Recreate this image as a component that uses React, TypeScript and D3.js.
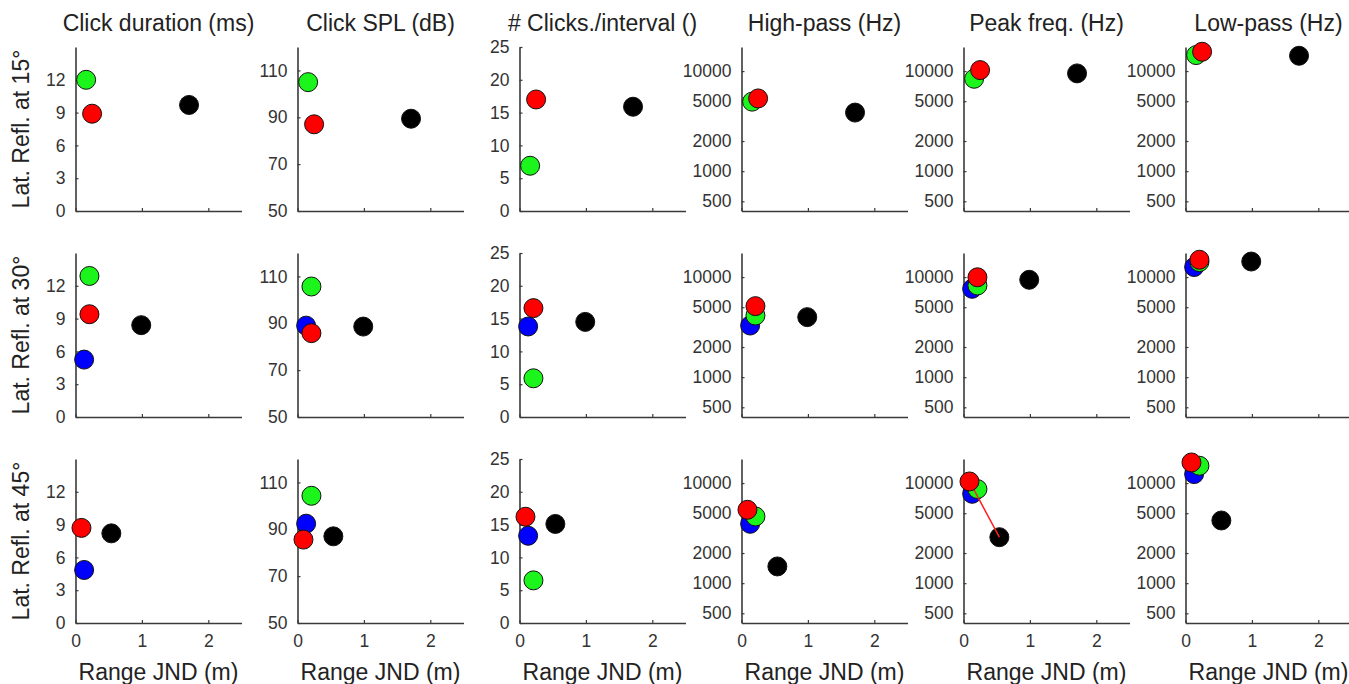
import { useEffect, useRef } from 'react'
import * as d3 from 'd3'

const width = 1349
const height = 684

// rows = lateral reflection angle, columns = click parameter
const angles = ['15°', '30°', '45°']
const measures = [
  'Click duration (ms)',
  'Click SPL (dB)',
  '# Clicks./interval ()',
  'High-pass (Hz)',
  'Peak freq. (Hz)',
  'Low-pass (Hz)',
]
const xTicks = [0, 1, 2]

// range JND (m) per row for each subject colour
const jndBlack = [1.71, 0.99, 0.54]
const jndBlue = [NaN, 0.13, 0.13]
const jndGreen = [0.16, 0.21, 0.21]
const jndRed = [0.25, 0.21, 0.09]

// parameter value per row (angle) x column (measure)
const valBlack = [
  [9.7, 89.4, 15.9, 3850, 9480, 14230],
  [8.4, 88.6, 14.5, 3980, 9400, 14300],
  [8.2, 87, 15.1, 1470, 2880, 4230],
]
const valBlue = [
  [NaN, NaN, NaN, NaN, NaN, NaN],
  [5.25, 89, 13.8, 3280, 7640, 12600],
  [4.85, 92.4, 13.3, 3920, 7820, 12300],
]
const valGreen = [
  [12.0, 105, 6.9, 4950, 8380, 14450],
  [12.9, 105.7, 5.9, 4130, 8240, 14130],
  [NaN, 104.3, 6.5, 4640, 8710, 14900],
]
const valRed = [
  [8.9, 87, 17.0, 5330, 10230, 15600],
  [9.4, 85.8, 16.6, 5125, 9950, 14900],
  [8.7, 85.6, 16.2, 5410, 10380, 16070],
]

// y-axis setup per column
const linDomains: [number, number][] = [[0, 15], [50, 120], [0, 25]]
const linTicks = [[0, 3, 6, 9, 12], [50, 70, 90, 110], [0, 5, 10, 15, 20, 25]]
const freqDomain: [number, number] = [400, 17400]
const freqTicks = [500, 1000, 2000, 5000, 10000]

// red line joining red and black points in the 45° peak-freq panel
const links = [{ row: 2, col: 4, from: 'red', to: 'black' }]

const series = [
  { key: 'black', color: '#000000', jnd: jndBlack, vals: valBlack },
  { key: 'blue', color: '#0000ff', jnd: jndBlue, vals: valBlue },
  { key: 'green', color: '#1cf51c', jnd: jndGreen, vals: valGreen },
  { key: 'red', color: '#ff0000', jnd: jndRed, vals: valRed },
]

export default function App() {
  const svgRef = useRef<SVGSVGElement>(null)

  useEffect(() => {
    if (!svgRef.current) return
    const svg = d3.select(svgRef.current)
    svg.selectAll('*').remove()

    const font = '"Liberation Sans", Arial, sans-serif'
    const left0 = 75.5
    const colStep = 222
    const top0 = 47
    const rowStep = 206
    const pw = 166
    const ph = 164
    const r = 9.5

    angles.forEach((angle, row) => {
      measures.forEach((measure, col) => {
        const left = left0 + col * colStep
        const top = top0 + row * rowStep
        const g = svg.append('g').attr('transform', `translate(${left},${top})`)

        const x = d3.scaleLinear().domain([0, 2.5]).range([0, pw])
        const isLog = col >= 3
        const y: any = isLog
          ? d3.scaleLog().domain(freqDomain).range([ph, 0])
          : d3.scaleLinear().domain(linDomains[col]).range([ph, 0])
        const yt = isLog ? freqTicks : linTicks[col]

        // axes
        const yAxis = g
          .append('g')
          .call(
            d3.axisLeft(y).tickValues(yt).tickSizeInner(-3).tickSizeOuter(0).tickPadding(10).tickFormat((d: any) => String(d))
          )
        const xAxis = g
          .append('g')
          .attr('transform', `translate(0,${ph})`)
          .call(
            d3.axisBottom(x)
              .tickValues(xTicks)
              .tickSizeInner(-3)
              .tickSizeOuter(0)
              .tickPadding(12)
              .tickFormat((d: any) => (row === angles.length - 1 ? String(d) : ''))
          )
        ;[yAxis, xAxis].forEach((ax) => {
          ax.select('.domain').attr('stroke', '#3a3a3a').attr('stroke-width', 1.6)
          ax.selectAll('.tick line').attr('stroke', '#3a3a3a').attr('stroke-width', 1.2)
          ax.selectAll('.tick text')
            .attr('fill', '#333')
            .attr('font-size', '17.5px')
            .attr('font-family', font)
        })

        // title on top row
        if (row === 0) {
          svg
            .append('text')
            .attr('x', left + pw / 2)
            .attr('y', top - 16)
            .attr('text-anchor', 'middle')
            .attr('fill', '#222')
            .attr('font-size', '23px')
            .attr('font-family', font)
            .text(measure)
        }

        // x label on bottom row
        if (row === angles.length - 1) {
          svg
            .append('text')
            .attr('x', left + pw / 2)
            .attr('y', top + ph + 57)
            .attr('text-anchor', 'middle')
            .attr('fill', '#222')
            .attr('font-size', '23px')
            .attr('font-family', font)
            .text('Range JND (m)')
        }

        // y label on first column
        if (col === 0) {
          svg
            .append('text')
            .attr('transform', `translate(23,${top + ph / 2}) rotate(-90)`)
            .attr('text-anchor', 'middle')
            .attr('dominant-baseline', 'middle')
            .attr('fill', '#222')
            .attr('font-size', '23px')
            .attr('font-family', font)
            .text(`Lat. Refl. at ${angle}`)
        }

        const pts = series
          .map((s) => ({ key: s.key, color: s.color, jx: s.jnd[row], v: s.vals[row][col] }))
          .filter((p) => !isNaN(p.jx) && !isNaN(p.v))

        const drawPts = (list: typeof pts) =>
          g
            .selectAll(null)
            .data(list)
            .enter()
            .append('circle')
            .attr('cx', (d) => x(d.jx))
            .attr('cy', (d) => y(d.v))
            .attr('r', r)
            .attr('fill', (d) => d.color)
            .attr('stroke', '#111')
            .attr('stroke-width', 1)

        drawPts(pts.filter((p) => p.key !== 'red'))

        links
          .filter((l) => l.row === row && l.col === col)
          .forEach((l) => {
            const a = pts.find((p) => p.key === l.from)
            const b = pts.find((p) => p.key === l.to)
            if (!a || !b) return
            g.append('line')
              .attr('x1', x(a.jx))
              .attr('y1', y(a.v))
              .attr('x2', x(b.jx))
              .attr('y2', y(b.v))
              .attr('stroke', '#ff2020')
              .attr('stroke-width', 1.5)
          })

        drawPts(pts.filter((p) => p.key === 'red'))
      })
    })
  }, [])

  return (
    <svg
      ref={svgRef}
      width={width}
      height={height}
      style={{ position: 'absolute', left: 0, top: 0, background: '#fff' }}
    />
  )
}
